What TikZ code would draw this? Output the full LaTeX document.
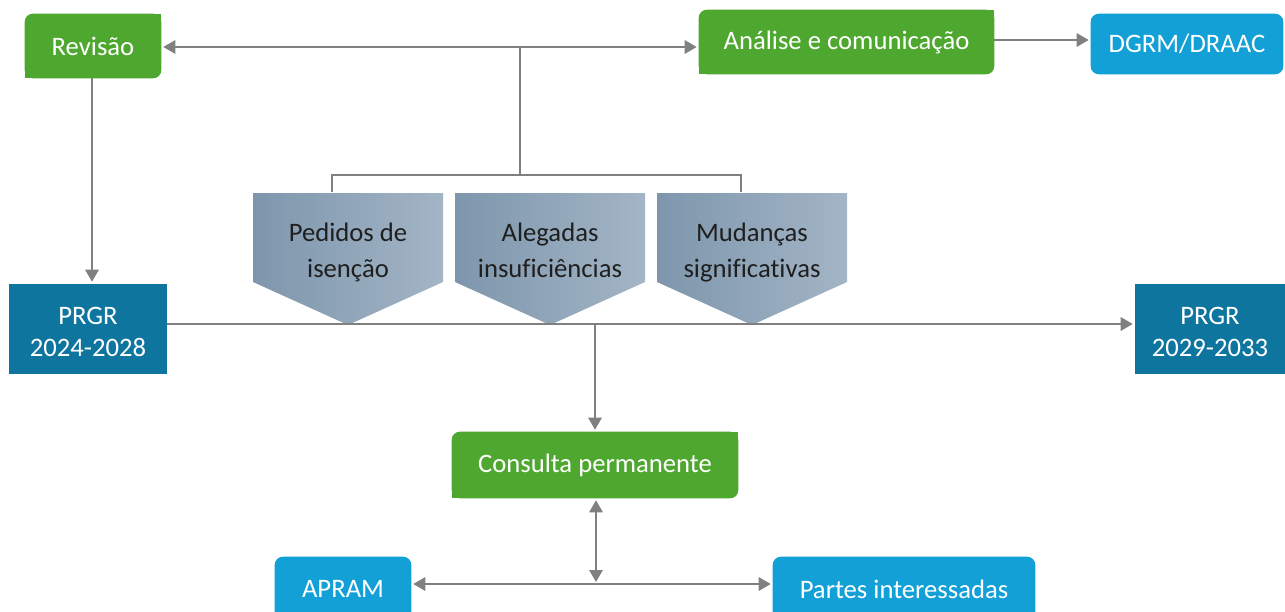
\documentclass[tikz,border=0pt]{standalone}
\usepackage{fontspec}
\setmainfont{Carlito}[Ligatures=NoCommon]
\usetikzlibrary{arrows.meta}
\pgfdeclarelayer{background}
\pgfsetlayers{background,main}
\definecolor{grn}{HTML}{4EA72E}
\definecolor{lblue}{HTML}{12A0D7}
\definecolor{dblue}{HTML}{0E759F}
\definecolor{pentL}{HTML}{7E96AC}
\definecolor{pentR}{HTML}{A3B5C6}
\definecolor{arrgrey}{HTML}{808080}
\newcommand{\tlbrfill}[2]{%
  \fill[#2, rounded corners=6pt] (#1.north west) rectangle (#1.south east);
  \fill[#2] (#1.north east) rectangle ++(-12,12);
  \fill[#2] (#1.south west) rectangle ++(12,-12);
}
\newcommand{\pentfill}[1]{%
  \shade[left color=pentL, right color=pentR] (#1-95,193) -- (#1+95,193) -- (#1+95,282) -- (#1,325) -- (#1-95,282) -- cycle;
}
\begin{document}
\begin{tikzpicture}[x=0.75pt,y=-0.75pt,
  box/.style={rectangle, inner sep=0pt, text=white, font=\fontsize{20pt}{24pt}\selectfont, align=center},
  penttext/.style={inner sep=0pt, text=black!88, font=\fontsize{20pt}{27pt}\selectfont, align=center},
  conn/.style={draw=arrgrey, line width=1.5pt, -{Triangle[length=9pt,width=10pt]}, shorten >=1.5pt},
  dconn/.style={draw=arrgrey, line width=1.5pt, {Triangle[length=9pt,width=10pt]}-{Triangle[length=9pt,width=10pt]}, shorten >=1.5pt, shorten <=1.5pt},
  brk/.style={draw=arrgrey, line width=1pt}]
\useasboundingbox (0,0) rectangle (1285,611);
\clip (0,0) rectangle (1285,611);

% nodes
\node[box, minimum width=102pt, minimum height=48pt] (rev) at (93,46) {Revisão};
\node[box, minimum width=221.25pt, minimum height=48pt] (ana) at (846.5,42) {Análise e comunicação};
\node[box, minimum width=144pt, minimum height=45pt] (dgrm) at (1187,44) {DGRM/DRAAC};
\node[box, minimum width=118.5pt, minimum height=67.5pt, fill=dblue] (prgr1) at (88,329) {\rule{0pt}{24pt}PRGR\\\strut 2024-2028};
\node[box, minimum width=112.5pt, minimum height=67.5pt, fill=dblue] (prgr2) at (1210,329) {\rule{0pt}{24pt}PRGR\\\strut 2029-2033};
\node[box, minimum width=214.5pt, minimum height=49.5pt] (cons) at (595,465) {Consulta permanente};
\node[box, minimum width=102pt, minimum height=48pt] (apram) at (343,589) {APRAM};
\node[box, minimum width=196.5pt, minimum height=48pt] (partes) at (904,589) {Partes interessadas};

\node[penttext] (p1) at (348,252) {\strut Pedidos de\\\strut isenção};
\node[penttext] (p2) at (550,252) {\strut Alegadas\\\strut insuficiências};
\node[penttext] (p3) at (752,252) {\strut Mudanças\\\strut significativas};

\begin{pgfonlayer}{background}
  \tlbrfill{rev}{grn}
  \tlbrfill{ana}{grn}
  \tlbrfill{cons}{grn}
  \fill[lblue, rounded corners=6pt] (dgrm.north west) rectangle (dgrm.south east);
  \fill[lblue, rounded corners=6pt] (apram.north west) rectangle (apram.south east);
  \fill[lblue, rounded corners=6pt] (partes.north west) rectangle (partes.south east);
  \pentfill{348}
  \pentfill{550}
  \pentfill{752}
\end{pgfonlayer}

% coordinates
\coordinate (J) at (520,47);
\coordinate (B) at (520,175);
\coordinate (bl) at (332,192);
\coordinate (br) at (741,192);
\coordinate (L) at (595,324);
\coordinate (M) at (596,584);

% connectors
\draw[conn] (J) -- (J -| rev.east);
\draw[conn] (J) -- (J -| ana.west);
\draw[brk] (J) -- (B);
\draw[brk] (bl) -- (bl |- B) -- (br |- B) -- (br);
\draw[conn] (ana.east |- 0,40) -- (dgrm.west |- 0,40);
\draw[conn] (rev.south -| 92,0) -- (prgr1.north -| 92,0);
\draw[conn] (prgr1.east |- L) -- (prgr2.west |- L);
\draw[conn] (L) -- (cons.north);
\draw[dconn] (cons.south -| M) -- (M);
\draw[dconn] (apram.east |- M) -- (partes.west |- M);
\end{tikzpicture}
\end{document}
